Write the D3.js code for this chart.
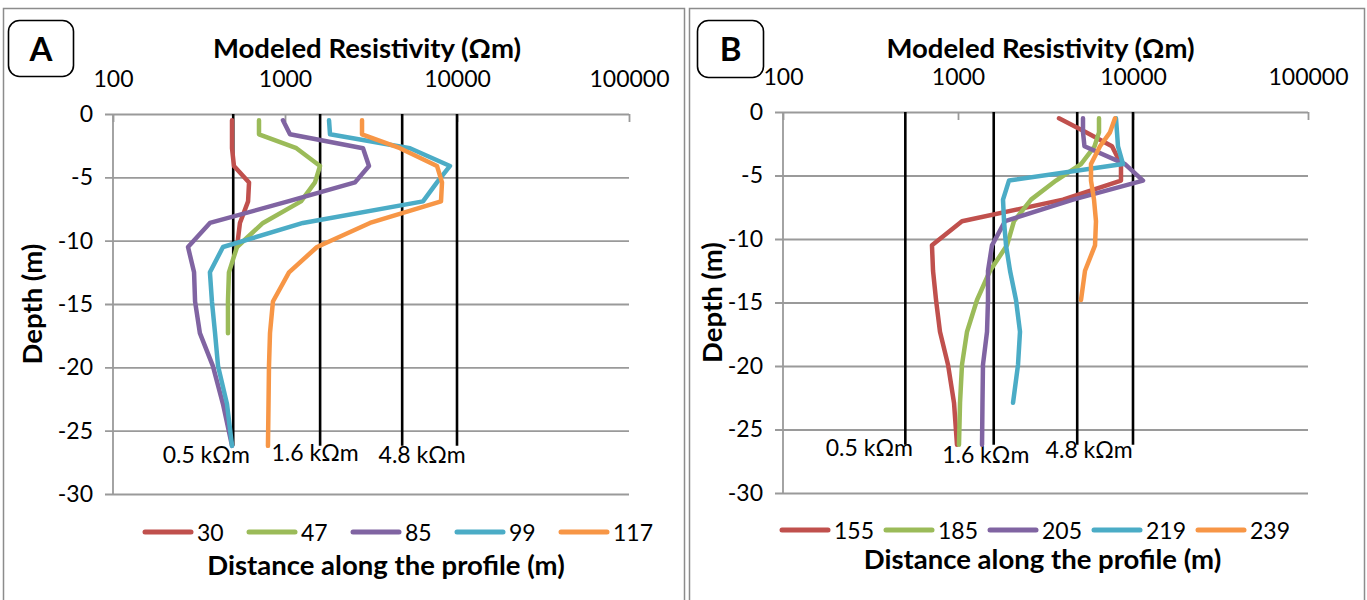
<!DOCTYPE html>
<html>
<head>
<meta charset="utf-8">
<script src="https://cdn.jsdelivr.net/npm/d3@7"></script>
<style>
  html, body { margin: 0; padding: 0; background: #fff; }
  svg { display: block; font-family: Lato, "Open Sans", sans-serif; }
</style>
</head>
<body>
<svg id="chart" width="1367" height="600"></svg>
<script>
// Model layer depths (m), shared by every sounding curve
const depths = [-0.5, -1.6, -2.7, -4.1, -5.4, -6.9, -8.6, -10.5, -12.5, -14.8, -17.3, -19.9, -22.9, -26.2];

// Panel A: distances along the profile and modeled resistivity (Ωm) per layer
const namesA = ["30", "47", "85", "99", "117"];
const resA30  = [492, 492, 492, 505, 618, 610, 547, 526, null, null, null, null, null, null];
const resA47  = [706, 706, 1165, 1598, 1494, 1239, 745, 526, 472, 466, 466, null, null, null];
const resA85  = [973, 1069, 2842, 3078, 2553, 1041, 366, 273, 296, 300, 320, 381, 436, 492];
const resA99  = [1803, 1827, 5330, 9105, 7650, 6343, 1272, 436, 366, 376, 392, 408, 460, 492];
const resA117 = [2804, 2804, 4662, 7650, 8181, 8072, 3120, 1535, 1055, 851, 818, 807, 802, 796];

// Panel B
const namesB = ["155", "185", "205", "219", "239"];
const resB155 = [3776, 5387, 7586, 8538, 8538, 3981, 1054, 710, 720, 749, 789, 877, 949, 987];
const resB185 = [6393, 6393, 6030, 5046, 3631, 2614, 2089, 1905, 1524, 1284, 1126, 1054, 1027, 1013];
const resB205 = [5179, 5179, 5280, 9000, 11406, 4542, 1856, 1564, 1484, 1484, 1465, 1389, 1380, 1372];
const resB219 = [7997, 8102, 8209, 8770, 1956, 1808, 1832, 1881, 1983, 2145, 2261, 2203, 2063, null];
const resB239 = [7892, 7390, 6478, 5754, 5754, 5987, 6144, 6067, 5318, 5046, null, null, null, null];

// Reference resistivity levels (Ωm) drawn as vertical lines, and their labels
const refLevels = [500, 1600, 4800, 10000];
const refLabels = ["0.5 kΩm", "1.6 kΩm", "4.8 kΩm"];
const refBottom = -26.2;

// Axis ticks
const xTicks = [100, 1000, 10000, 100000];
const yTicks = [0, -5, -10, -15, -20, -25, -30];

const colors = ["#C0504D", "#9BBB59", "#8064A2", "#4BACC6", "#F79646"];

const svg = d3.select("#chart");
svg.append("rect").attr("width", 1367).attr("height", 600).attr("fill", "#fff");

const panels = [
  {
    letter: "A", names: namesA, series: [resA30, resA47, resA85, resA99, resA117],
    frame: [3.5, 8.5, 681, 620], box: [8.5, 20.5, 65, 56],
    xr: [113, 629], yr: [114, 494],
    labelDx: [-27, -5, 20], labelY: [463, 461, 463],
    legendX: 143, legendY: 532, xTitleY: 575, depthX: 32,
    titleDx: -4, xTitleDx: 15
  },
  {
    letter: "B", names: namesB, series: [resB155, resB185, resB205, resB219, resB239],
    frame: [689.5, 8.5, 675, 620], box: [697.5, 20.5, 66, 57],
    xr: [783, 1308], yr: [112, 493],
    labelDx: [-36, -8, 12], labelY: [456, 463, 458],
    legendX: 780, legendY: 530, xTitleY: 569, depthX: 712,
    titleDx: -5, xTitleDx: -3
  }
];

panels.forEach(p => {
  const g = svg.append("g");

  // outer frame
  g.append("rect")
    .attr("x", p.frame[0]).attr("y", p.frame[1])
    .attr("width", p.frame[2]).attr("height", p.frame[3])
    .attr("fill", "none").attr("stroke", "#8c8c8c").attr("stroke-width", 1.5);

  // panel letter box
  g.append("rect")
    .attr("x", p.box[0]).attr("y", p.box[1])
    .attr("width", p.box[2]).attr("height", p.box[3])
    .attr("rx", 11).attr("ry", 11)
    .attr("fill", "#fff").attr("stroke", "#000").attr("stroke-width", 1.6);
  g.append("text")
    .attr("x", p.box[0] + p.box[2] / 2).attr("y", p.box[1] + p.box[3] / 2 + 12)
    .attr("text-anchor", "middle")
    .attr("font-size", 33).attr("font-weight", 700)
    .text(p.letter);

  const x = d3.scaleLog().domain([100, 100000]).range(p.xr);
  const y = d3.scaleLinear().domain([0, -30]).range(p.yr);
  const plotW = p.xr[1] - p.xr[0];

  // horizontal gridlines + depth tick labels (plain hyphen minus)
  const yAxis = g.append("g")
    .attr("transform", `translate(${p.xr[0]},0)`)
    .call(d3.axisLeft(y).tickValues(yTicks).tickFormat(d => String(d))
      .tickSizeInner(-plotW).tickSizeOuter(0).tickPadding(20));
  yAxis.select(".domain").remove();
  yAxis.selectAll(".tick line")
    .attr("x1", -8).attr("stroke", "#9a9a9a").attr("stroke-width", 1.8);
  yAxis.selectAll(".tick text")
    .attr("font-family", "Lato").attr("font-size", 23).attr("fill", "#000");

  // vertical axis line
  g.append("line")
    .attr("x1", p.xr[0]).attr("x2", p.xr[0])
    .attr("y1", p.yr[0]).attr("y2", p.yr[1])
    .attr("stroke", "#9a9a9a").attr("stroke-width", 1.8);

  // top resistivity axis
  const xAxis = g.append("g")
    .attr("transform", `translate(0,${p.yr[0]})`)
    .call(d3.axisTop(x).tickValues(xTicks).tickFormat(d3.format("d"))
      .tickSizeInner(-8).tickSizeOuter(0).tickPadding(27));
  xAxis.select(".domain").remove();
  xAxis.selectAll(".tick line").attr("stroke", "#9a9a9a").attr("stroke-width", 1.8);
  xAxis.selectAll(".tick text")
    .attr("font-family", "Lato").attr("font-size", 23).attr("fill", "#000");

  // reference resistivity lines
  g.selectAll(".ref").data(refLevels).enter().append("line")
    .attr("x1", d => x(d)).attr("x2", d => x(d))
    .attr("y1", y(0)).attr("y2", y(refBottom))
    .attr("stroke", "#000").attr("stroke-width", 2.6);

  g.selectAll(".reflabel").data(refLabels).enter().append("text")
    .attr("x", (d, i) => x(refLevels[i]) + p.labelDx[i])
    .attr("y", (d, i) => p.labelY[i])
    .attr("text-anchor", "middle")
    .attr("font-size", 23)
    .text(d => d);

  // sounding curves
  const line = d3.line()
    .defined(d => d.v != null)
    .x(d => x(d.v)).y(d => y(d.d));

  p.series.forEach((vals, i) => {
    const pts = vals.map((v, k) => ({ v: v, d: depths[k] }));
    g.append("path")
      .attr("d", line(pts))
      .attr("fill", "none")
      .attr("stroke", colors[i])
      .attr("stroke-width", 4.5)
      .attr("stroke-linejoin", "round")
      .attr("stroke-linecap", "round");
  });

  // titles
  const cx = (p.xr[0] + p.xr[1]) / 2;
  g.append("text")
    .attr("x", cx + p.titleDx).attr("y", 58)
    .attr("text-anchor", "middle").attr("font-size", 27.5).attr("font-weight", 700)
    .text("Modeled Resistivity (Ωm)");

  g.append("text")
    .attr("transform", `translate(${p.depthX},${(p.yr[0] + p.yr[1]) / 2}) rotate(-90)`)
    .attr("text-anchor", "middle").attr("dy", "0.36em")
    .attr("font-size", 27.5).attr("font-weight", 700)
    .text("Depth (m)");

  // legend
  const leg = g.append("g");
  p.names.forEach((n, i) => {
    const lx = p.legendX + i * 104;
    leg.append("line")
      .attr("x1", lx + 2).attr("x2", lx + 48)
      .attr("y1", p.legendY).attr("y2", p.legendY)
      .attr("stroke", colors[i]).attr("stroke-width", 5).attr("stroke-linecap", "round");
    leg.append("text")
      .attr("x", lx + 54).attr("y", p.legendY + 8.5)
      .attr("font-size", 23)
      .text(n);
  });

  g.append("text")
    .attr("x", cx + p.xTitleDx).attr("y", p.xTitleY)
    .attr("text-anchor", "middle").attr("font-size", 27.5).attr("font-weight", 700)
    .text("Distance along the profile (m)");
});
</script>
</body>
</html>
